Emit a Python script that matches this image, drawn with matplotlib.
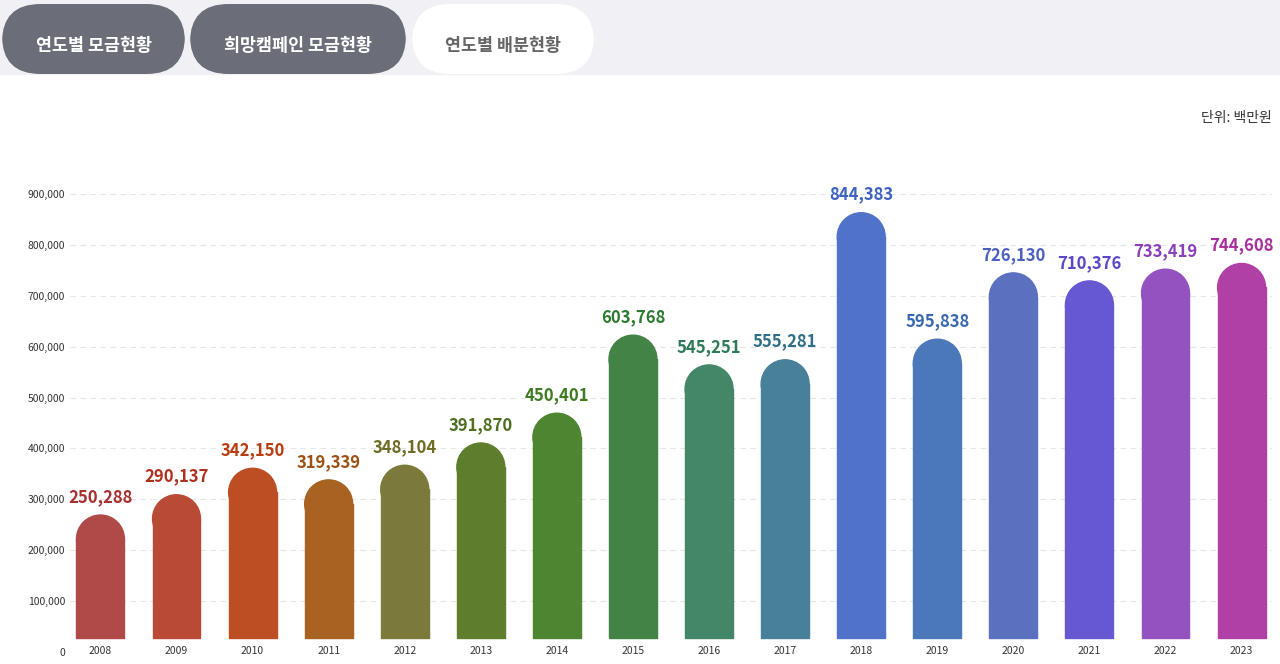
import matplotlib
matplotlib.use("Agg")
import matplotlib.pyplot as plt
from matplotlib.patches import FancyBboxPatch, Rectangle, Ellipse

plt.rcParams['font.family'] = ['Noto Sans CJK KR', 'DejaVu Sans']

years = [str(y) for y in range(2008, 2024)]
values = [250288, 290137, 342150, 319339, 348104, 391870, 450401, 603768,
          545251, 555281, 844383, 595838, 726130, 710376, 733419, 744608]
bar_colors = ['#b04a48', '#b94a35', '#bd4e23', '#a86222', '#7b7a3a', '#5e7e2e',
              '#4e8530', '#438446', '#448668', '#48809a', '#5073c9', '#4a78b8',
              '#5b70bf', '#6658d0', '#9352c0', '#b040a6']
label_colors = ['#a83030', '#b03020', '#b83c10', '#9c5214', '#6e6c24', '#4e7020',
                '#3e7a20', '#2e7a30', '#2e7a58', '#2e6e88', '#3e62c0', '#3a68b0',
                '#4a60c0', '#5a48c8', '#8a40b8', '#a8309c']
tabs = ['연도별 모금현황', '희망캠페인 모금현황', '연도별 배분현황']

W, H = 1280, 664
fig = plt.figure(figsize=(12.8, 6.64), dpi=100)
fig.patch.set_facecolor('white')

# top tab bar
fig.patches.append(Rectangle((0, (H - 74) / H), 1, 74 / H, transform=fig.transFigure,
                             color='#f1f1f5', zorder=0))
tab_x = [(2, 185), (190, 406), (412, 594)]
for i, (t, (x0, x1)) in enumerate(zip(tabs, tab_x)):
    fc = '#6b6e78' if i < 2 else 'white'
    fig.patches.append(FancyBboxPatch((x0 / W, (H - 74) / H), (x1 - x0) / W, 70 / H,
                                      boxstyle='round,pad=0,rounding_size=0.03',
                                      transform=fig.transFigure, fc=fc, ec='none',
                                      mutation_aspect=W / H, zorder=1))
    fig.text((x0 + x1) / 2 / W, (H - 46) / H, t, ha='center', va='center',
             fontsize=12.5, fontweight='bold', color='white' if i < 2 else '#666666')

fig.text(1272 / W, (H - 118) / H, '단위: 백만원', ha='right', va='center',
         fontsize=10, color='#333333')

ax = fig.add_axes([70 / W, 12 / H, (1272 - 70) / W, (652 - 194) / H])
ax.set_xlim(-0.4, len(years) - 0.6)
ax.set_ylim(0, 900000)
for s in ax.spines.values():
    s.set_visible(False)
ax.set_yticks(range(0, 900001, 100000))
ax.set_yticklabels([f'{v:,}' for v in range(0, 900001, 100000)], fontsize=7.5, color='#333333')
ax.tick_params(length=0)
ax.set_xticks(range(len(years)))
ax.set_xticklabels(years, fontsize=7.5, color='#333333')
ax.tick_params(axis='x', pad=-4)
ax.grid(axis='y', color='#e6e6e6', linestyle=(0, (5, 4)), linewidth=0.8)
ax.set_axisbelow(True)
ax.axhline(0, color='#dddddd', linewidth=0.8)

bw = 0.63
px_per_x = (1272 - 70) / (len(years) - 0.2)
px_per_y = (652 - 194) / 900000
r_px = bw * px_per_x / 2
r_y = r_px / px_per_y
for i, (v, c, lc) in enumerate(zip(values, bar_colors, label_colors)):
    top = v + r_y * 0.4
    ax.add_patch(Rectangle((i - bw / 2, 28000), bw, top - r_y - 28000, color=c, zorder=2))
    ax.add_patch(Ellipse((i, top - r_y), bw, 2 * r_y, color=c, zorder=2))
    ax.text(i, top + 18000, f'{v:,}', ha='center', va='bottom', fontsize=12,
            fontweight='bold', color=lc, clip_on=False)

fig.savefig('out.png', dpi=100)
